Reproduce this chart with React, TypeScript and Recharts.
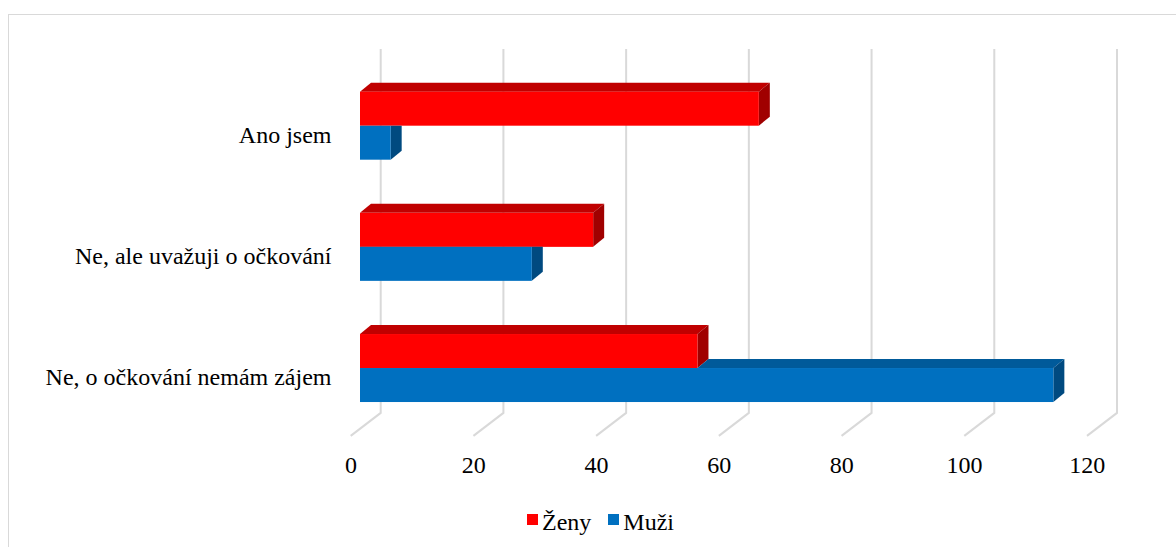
import React from "react";
import { BarChart, Bar, XAxis, YAxis, CartesianGrid, Legend } from "recharts";

const categories = ["Ano jsem", "Ne, ale uvažuji o očkování", "Ne, o očkování nemám zájem"];
const zenyValues = [65, 38, 55];
const muziValues = [5, 28, 113];
const xTicks = [0, 20, 40, 60, 80, 100, 120];

const data = categories.map((name, i) => ({ name, zeny: zenyValues[i], muzi: muziValues[i] }));

const FONT = "Liberation Serif, Tinos, Nimbus Roman, Times, DejaVu Serif, serif";
const DX = 11;
const DY = 9;

const RED = { front: "#FF0000", top: "#C00000", side: "#A00000" };
const BLUE = { front: "#0070C0", top: "#005A9A", side: "#004A80" };

function Box3D({ x, y, width, height, c }: any) {
  const w = Math.max(0, width);
  return (
    <g>
      <polygon
        points={`${x},${y} ${x + DX},${y - DY} ${x + w + DX},${y - DY} ${x + w},${y}`}
        fill={c.top}
      />
      <polygon
        points={`${x + w},${y} ${x + w + DX},${y - DY} ${x + w + DX},${y + height - DY} ${x + w},${y + height}`}
        fill={c.side}
      />
      <rect x={x} y={y} width={w} height={height} fill={c.front} />
    </g>
  );
}

const ZenyShape = (props: any) => <Box3D {...props} c={RED} />;

const MuziShape = (props: any) => {
  const { x, y, width, height, payload, index } = props;
  const pxPerUnit = payload.muzi ? width / payload.muzi : 0;
  const zw = payload.zeny * pxPerUnit;
  const zy = y - height;
  const zh = height;
  const id = `clip-muzi-${index}`;
  const outer = `M-100,-100 H3000 V3000 H-100 Z`;
  const sil = `M${x},${zy + zh} L${x},${zy} L${x + DX},${zy - DY} L${x + zw + DX},${zy - DY} L${x + zw + DX},${zy + zh - DY} L${x + zw},${zy + zh} Z`;
  return (
    <g>
      <defs>
        <clipPath id={id}>
          <path d={`${outer} ${sil}`} clipRule="evenodd" />
        </clipPath>
      </defs>
      <g clipPath={`url(#${id})`}>
        <Box3D {...props} c={BLUE} />
      </g>
    </g>
  );
};

const gridLine = (props: any) => {
  const { x1, y1, y2 } = props;
  const d = `M${x1 + 20.7},${y1 - 16.4} V${y2 - 16} L${x1 - 9.3},${y2 + 7}`;
  return <path key={`g-${x1}`} d={d} stroke="#D9D9D9" strokeWidth={2} fill="none" />;
};

const XTick = (props: any) => {
  const { x, payload } = props;
  return (
    <text x={x - 9} y={473} textAnchor="middle" style={{ fontFamily: FONT }} fontSize={24} fill="#000">
      {payload.value}
    </text>
  );
};

const YTick = (props: any) => {
  const { y, payload } = props;
  return (
    <text x={331.5} y={y + 17} textAnchor="end" style={{ fontFamily: FONT }} fontSize={24} fill="#000">
      {payload.value}
    </text>
  );
};

const LegendContent = () => (
  <div style={{ display: "flex", alignItems: "flex-start", height: 30, fontFamily: FONT, fontSize: 24, lineHeight: "30px", color: "#000" }}>
    <span style={{ width: 11, height: 11, background: RED.front, marginTop: 7, marginRight: 4, display: "inline-block" }} />
    <span>Ženy</span>
    <span style={{ width: 11, height: 11, background: BLUE.front, marginTop: 7, marginRight: 4, marginLeft: 17, display: "inline-block" }} />
    <span>Muži</span>
  </div>
);

export default function App() {
  return (
    <div style={{ position: "absolute", left: 0, top: 0, width: 1176, height: 547, overflow: "hidden", background: "#fff" }}>
      <div style={{ position: "absolute", left: 8, top: 14, width: 1400, height: 800, borderTop: "1px solid #D9D9D9", borderLeft: "1px solid #D9D9D9" }} />
      <BarChart
        width={1176}
        height={547}
        data={data}
        layout="vertical"
        margin={{ top: 65.4, right: 79.7, bottom: 58.1, left: 0 }}
        barCategoryGap="21.7%"
        barGap={0}
      >
        <CartesianGrid horizontal={false} vertical={gridLine} />
        <XAxis type="number" domain={[0, 120]} ticks={xTicks} axisLine={false} tickLine={false} tick={<XTick />} height={30} interval={0} />
        <YAxis type="category" dataKey="name" width={360} axisLine={false} tickLine={false} tick={<YTick />} interval={0} />
        <Legend verticalAlign="bottom" content={<LegendContent />} wrapperStyle={{ top: 507, left: 527, width: "auto", height: 30 }} />
        <Bar dataKey="zeny" name="Ženy" fill={RED.front} shape={ZenyShape} isAnimationActive={false} />
        <Bar dataKey="muzi" name="Muži" fill={BLUE.front} shape={MuziShape} isAnimationActive={false} />
      </BarChart>
    </div>
  );
}
